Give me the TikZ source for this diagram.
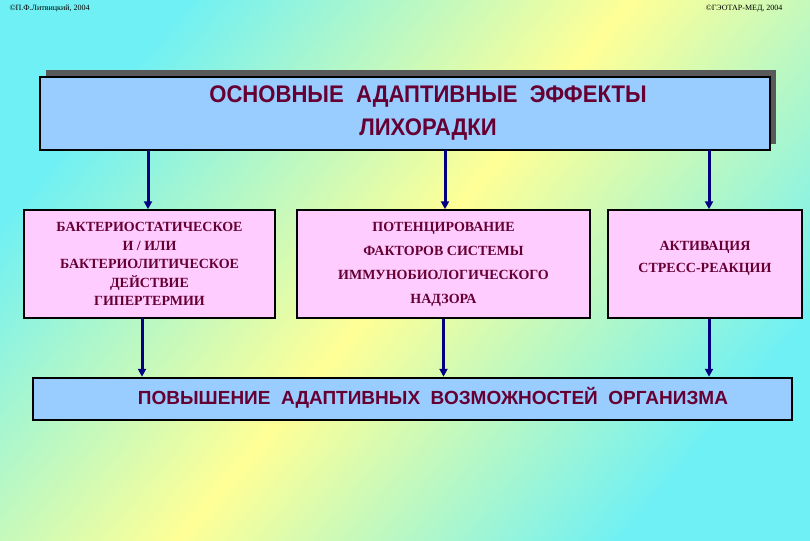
\documentclass[tikz,border=0pt]{standalone}
\usepackage{fontspec}
\setmainfont{Liberation Serif}
\newfontfamily\hsans{Liberation Sans}
\usetikzlibrary{arrows.meta}
\definecolor{bgcyan}{RGB}{110,240,245}
\definecolor{bgyel}{RGB}{255,255,150}
\definecolor{lblue}{RGB}{153,204,255}
\definecolor{lpink}{RGB}{255,204,255}
\definecolor{maroon}{RGB}{102,0,51}
\definecolor{navy}{RGB}{0,0,128}
\tikzset{
  titlebox/.style={draw=black,line width=2.5pt,fill=lblue},
  pinkbox/.style={draw=black,line width=1.5pt,fill=lpink,font=\bfseries\fontsize{14}{18.5}\selectfont,text=maroon,align=center},
  conn/.style={draw=navy,line width=3pt,-{Triangle[length=8pt,width=8pt]}},
}
\begin{document}
\begin{tikzpicture}[x=1pt,y=-1pt]
\shade[left color=bgcyan,right color=bgcyan,middle color=bgyel,shading angle=50] (0,0) rectangle (810,540);
\useasboundingbox (0,0) rectangle (810,540);
\node[anchor=west,font=\fontsize{8}{9}\selectfont] (c1) at (6,9) {©П.Ф.Литвицкий, 2004};
\node[anchor=east,font=\fontsize{8}{9}\selectfont] (c2) at (786,9) {©ГЭОТАР-МЕД, 2004};
% title
\fill[gray!70!black] (46,70) rectangle (776,144);
\path[titlebox] (40,77) rectangle (770,150);
\node[font=\hsans\bfseries\fontsize{24}{33}\selectfont,text=maroon,align=center,xscale=0.92] (t) at (428,113) {ОСНОВНЫЕ\ \ АДАПТИВНЫЕ\ \ ЭФФЕКТЫ\\ЛИХОРАДКИ};
\coordinate (ta) at (148,150);
\coordinate (tb) at (445,150);
\coordinate (tc) at (709,150);
\coordinate (ba) at (142,318);
% boxes
\node[pinkbox,minimum width=251pt,minimum height=108pt,inner sep=0pt] (b1) at (149.5,264) {БАКТЕРИОСТАТИЧЕСКОЕ\\И / ИЛИ\\БАКТЕРИОЛИТИЧЕСКОЕ\\ДЕЙСТВИЕ\\ГИПЕРТЕРМИИ};
\node[pinkbox,minimum width=293pt,minimum height=108pt,inner sep=0pt,font=\bfseries\fontsize{14}{24}\selectfont] (b2) at (443.5,264) {ПОТЕНЦИРОВАНИЕ\\ФАКТОРОВ СИСТЕМЫ\\ИММУНОБИОЛОГИЧЕСКОГО\\НАДЗОРА};
\node[pinkbox,minimum width=194pt,minimum height=108pt,inner sep=0pt] (b3) at (705,264) {};
\node[font=\bfseries\fontsize{14}{22}\selectfont,text=maroon,align=center] (b3t) at (705,258) {АКТИВАЦИЯ\\СТРЕСС-РЕАКЦИИ};
\draw[conn] (ta) -- (ta |- b1.north);
\draw[conn] (tb) -- (tb |- b2.north);
\draw[conn] (tc) -- (tc |- b3.north);
% bottom
\node[titlebox,minimum width=759pt,minimum height=42pt,inner sep=0pt] (bot) at (412.5,399) {};
\node[font=\hsans\bfseries\fontsize{19}{22}\selectfont,text=maroon] (bt) at (433,398) {ПОВЫШЕНИЕ\ \ АДАПТИВНЫХ\ \ ВОЗМОЖНОСТЕЙ\ \ ОРГАНИЗМА};
\draw[conn] (ba) -- (ba |- bot.north);
\draw[conn] (b2.south) -- (b2.south |- bot.north);
\draw[conn] (tc |- b3.south) -- (tc |- bot.north);
\end{tikzpicture}
\end{document}
